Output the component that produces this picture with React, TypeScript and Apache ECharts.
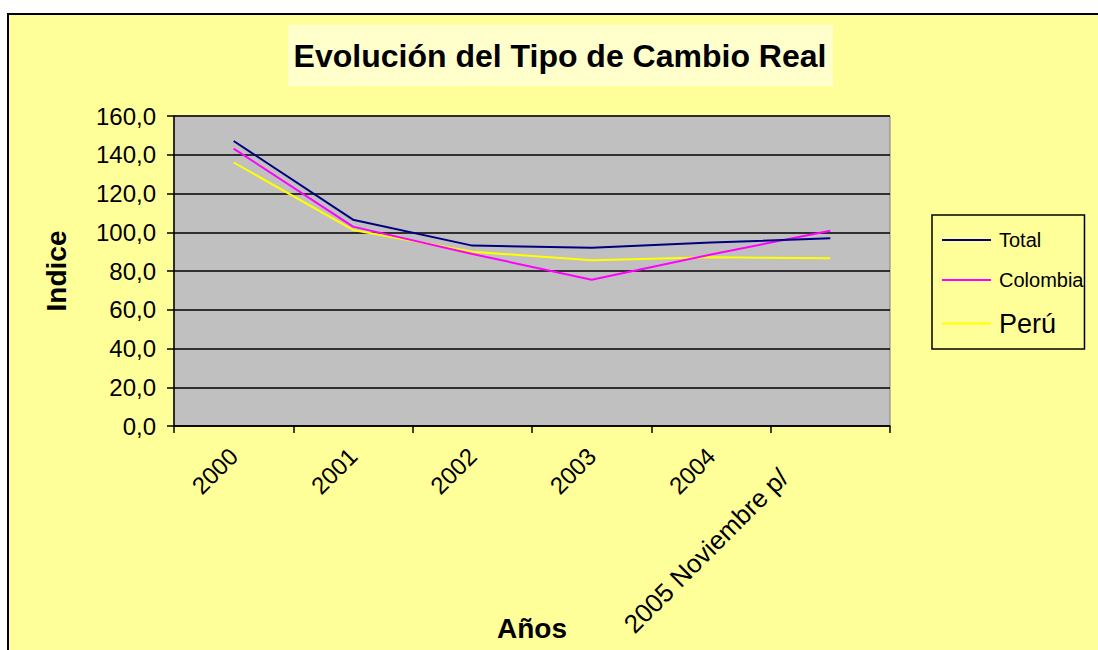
import React, { useEffect, useRef } from "react";
import * as echarts from "echarts";

const categories = ["2000", "2001", "2002", "2003", "2004", "2005 Noviembre p/"];
const totalValues = [147.1, 106.5, 93.1, 92.0, 94.7, 96.9];
const colombiaValues = [143.2, 102.9, 88.8, 75.5, 88.5, 100.8];
const peruValues = [136.0, 101.2, 89.9, 85.6, 87.1, 86.6];
const seriesNames = ["Total", "Colombia", "Perú"];
const seriesColors = ["#000080", "#FF00FF", "#FFFF00"];
const titleText = "Evolución del Tipo de Cambio Real";
const yAxisName = "Indice";
const xAxisName = "Años";

export default function App() {
  const ref = useRef<HTMLDivElement>(null);
  useEffect(() => {
    if (!ref.current) return;
    const chart = echarts.init(ref.current, undefined, { renderer: "svg" });
    const font = "'Liberation Sans', Arial, sans-serif";
    const values = [totalValues, colombiaValues, peruValues];
    chart.setOption({
      animation: false,
      backgroundColor: "#FFFFFF",
      textStyle: { fontFamily: font },
      graphic: [
        {
          type: "rect",
          z: -100,
          silent: true,
          shape: { x: 8, y: 14, width: 1200, height: 800 },
          style: { fill: "#FFFF99", stroke: "#000000", lineWidth: 2 },
        },
        {
          type: "rect",
          z: -99,
          silent: true,
          shape: { x: 288, y: 25, width: 545, height: 61 },
          style: { fill: "#FFFFCC" },
        },
        {
          type: "text",
          z: 10,
          silent: true,
          x: 560,
          y: 56,
          style: {
            text: titleText,
            fontFamily: font,
            fontSize: 32,
            fontWeight: "bold",
            fill: "#000000",
            align: "center",
            verticalAlign: "middle",
          },
        },
      ],
      legend: {
        orient: "vertical",
        left: 932,
        top: 215,
        padding: [15, 1, 12, 10],
        itemGap: 20,
        itemWidth: 49,
        itemHeight: 2,
        icon: "rect",
        borderColor: "#000000",
        borderWidth: 1.5,
        data: seriesNames,
        formatter: (name: string) => (name === "Perú" ? `{p|${name}}` : `{t|${name}}`),
        textStyle: {
          color: "#000000",
          fontFamily: font,
          fontSize: 20,
          rich: {
            t: { fontSize: 20, fontFamily: font, color: "#000", padding: [0, 0, 0, 3] },
            p: { fontSize: 27, fontFamily: font, color: "#000", padding: [0, 0, 0, 3] },
          },
        },
      },
      grid: {
        left: 174,
        top: 116,
        right: 208,
        bottom: 224,
        show: true,
        outerBoundsMode: "none",
        containLabel: false,
        backgroundColor: "#C0C0C0",
        borderColor: "#808080",
        borderWidth: 1,
      },
      xAxis: {
        type: "category",
        data: categories,
        boundaryGap: true,
        name: xAxisName,
        nameLocation: "middle",
        nameGap: 188,
        nameMoveOverlap: false,
        nameTextStyle: { fontSize: 28, fontWeight: "bold", color: "#000", fontFamily: font },
        axisLine: { lineStyle: { color: "#000", width: 1.5 } },
        axisTick: { show: true, length: 7, alignWithLabel: false, lineStyle: { color: "#000", width: 1.5 } },
        axisLabel: {
          rotate: 45,
          fontSize: 24,
          color: "#000",
          margin: 26,
          interval: 0,
          fontFamily: font,
          formatter: (v: string, i: number) =>
            i === categories.length - 1 ? `{l|${v}}` : `{s|${v}}`,
          rich: {
            s: { fontSize: 24, fontFamily: font, color: "#000" },
            l: { fontSize: 26, fontFamily: font, color: "#000", padding: [0, 48, 36, 0] },
          },
        },
        splitLine: { show: false },
      },
      yAxis: {
        type: "value",
        min: 0,
        max: 160,
        interval: 20,
        name: yAxisName,
        nameLocation: "middle",
        nameGap: 104,
        nameRotate: 90,
        nameMoveOverlap: false,
        nameTextStyle: { fontSize: 28, fontWeight: "bold", color: "#000", fontFamily: font },
        axisLine: { show: true, lineStyle: { color: "#000", width: 1.5 } },
        axisTick: { show: true, length: 7, lineStyle: { color: "#000", width: 1.5 } },
        axisLabel: {
          fontSize: 24,
          color: "#000",
          margin: 18,
          fontFamily: font,
          formatter: (v: number) => v.toFixed(1).replace(".", ","),
        },
        splitLine: { show: true, lineStyle: { color: "#000", width: 1.5 } },
      },
      series: seriesNames.map((name, i) => ({
        name,
        type: "line",
        data: values[i],
        symbol: "none",
        z: 3 + (2 - i),
        lineStyle: { color: seriesColors[i], width: 2 },
        itemStyle: { color: seriesColors[i] },
      })),
    });
    return () => chart.dispose();
  }, []);
  return (
    <div
      ref={ref}
      style={{ position: "absolute", left: 0, top: 0, width: 1098, height: 650 }}
    />
  );
}
